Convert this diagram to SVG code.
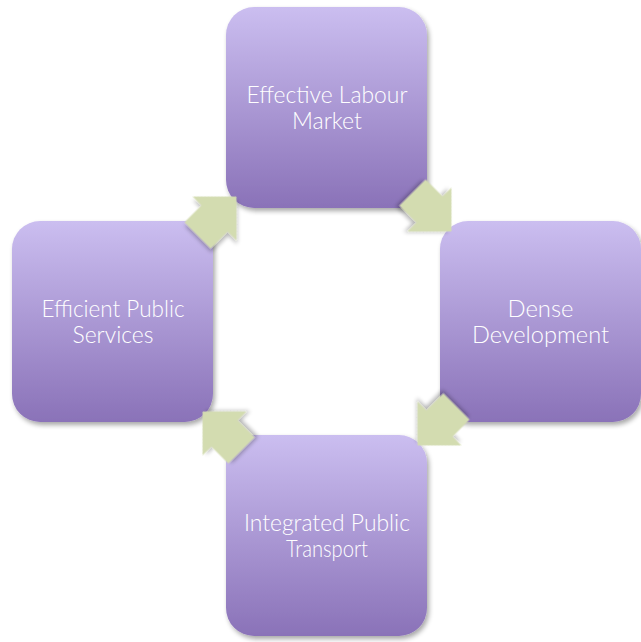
<svg xmlns="http://www.w3.org/2000/svg" width="641" height="642" viewBox="0 0 641 642">
<defs>
<linearGradient id="boxGrad" x1="0" y1="0" x2="0" y2="1">
<stop offset="0" stop-color="#cbbef0"/>
<stop offset="1" stop-color="#8a72b8"/>
</linearGradient>
<filter id="shadow" x="-20%" y="-20%" width="140%" height="140%">
<feGaussianBlur in="SourceAlpha" stdDeviation="2.5"/>
<feOffset dx="1.5" dy="3" result="b"/>
<feComponentTransfer><feFuncA type="linear" slope="0.35"/></feComponentTransfer>
<feMerge><feMergeNode/><feMergeNode in="SourceGraphic"/></feMerge>
</filter>
<filter id="ashadow" x="-30%" y="-30%" width="160%" height="160%">
<feGaussianBlur in="SourceAlpha" stdDeviation="2"/>
<feOffset dx="-2" dy="3" result="b"/>
<feComponentTransfer><feFuncA type="linear" slope="0.3"/></feComponentTransfer>
<feMerge><feMergeNode/><feMergeNode in="SourceGraphic"/></feMerge>
</filter>
<polygon id="arrow" points="-27.5,-18.5 -3.5,-18.5 -3.5,-31 27.5,0 -3.5,31 -3.5,18.5 -27.5,18.5"/>
</defs>
<style>
.box{fill:url(#boxGrad);filter:url(#shadow);}
.arr{fill:#d3dcb0;filter:url(#ashadow);}
.lbl{font-family:Lato,"Open Sans","Liberation Sans",sans-serif;font-weight:300;font-size:23.5px;fill:#ffffff;text-anchor:middle;}
</style>
<rect width="641" height="642" fill="#ffffff"/>
<g id="node-top">
<rect class="box" x="226" y="7" width="201" height="201" rx="28"/>
<text class="lbl" x="327" y="102.7" textLength="161" lengthAdjust="spacingAndGlyphs">Effective Labour</text>
<text class="lbl" x="327" y="129.3" textLength="70" lengthAdjust="spacingAndGlyphs">Market</text>
</g>
<g id="node-right">
<rect class="box" x="440" y="221" width="201" height="201" rx="28"/>
<text class="lbl" x="540.5" y="317" textLength="66" lengthAdjust="spacingAndGlyphs">Dense</text>
<text class="lbl" x="540.5" y="342.7" textLength="137" lengthAdjust="spacingAndGlyphs">Development</text>
</g>
<g id="node-bottom">
<rect class="box" x="226" y="435" width="201" height="201" rx="28"/>
<text class="lbl" x="327" y="530.7" textLength="166" lengthAdjust="spacingAndGlyphs">Integrated Public</text>
<text class="lbl" x="327" y="557.3" textLength="82" lengthAdjust="spacingAndGlyphs">Transport</text>
</g>
<g id="node-left">
<rect class="box" x="12" y="221" width="201" height="201" rx="28"/>
<text class="lbl" x="113" y="316.7" textLength="143" lengthAdjust="spacingAndGlyphs">Efficient Public</text>
<text class="lbl" x="113" y="342.7" textLength="81" lengthAdjust="spacingAndGlyphs">Services</text>
</g>
<g id="connectors">
<use href="#arrow" class="arr" transform="translate(217,216) rotate(-45)"/>
<use href="#arrow" class="arr" transform="translate(432,212) rotate(45)"/>
<use href="#arrow" class="arr" transform="translate(437,426) rotate(135)"/>
<use href="#arrow" class="arr" transform="translate(222,431) rotate(225)"/>
</g>
</svg>
